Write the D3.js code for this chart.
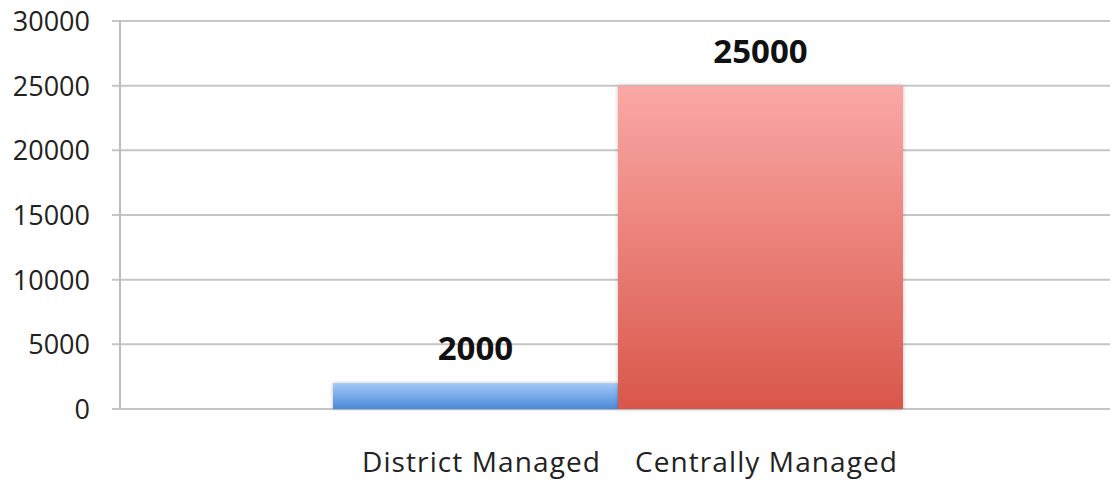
<!DOCTYPE html>
<html><head><meta charset="utf-8">
<script src="https://cdn.jsdelivr.net/npm/d3@7"></script>
<style>body{margin:0;background:#fff}svg{display:block}</style>
</head><body>
<svg id="c" width="1110" height="484"></svg>
<script>
const categories = ["District Managed", "Centrally Managed"];
const values = [2000, 25000];
const yTicks = [0, 5000, 10000, 15000, 20000, 25000, 30000];
const gradStops = [["#a3c9f7", "#4a8ad8"], ["#faa8a6", "#d9574a"]];

const svg = d3.select("#c");
const y = d3.scaleLinear().domain([0, 30000]).range([409, 21]);
const x = d3.scaleBand().domain(categories).range([333, 903]).paddingInner(0).paddingOuter(0);

const defs = svg.append("defs");
categories.forEach((c, i) => {
  const g = defs.append("linearGradient").attr("id", "g" + i)
    .attr("x1", 0).attr("y1", 0).attr("x2", 0).attr("y2", 1);
  g.append("stop").attr("offset", "0%").attr("stop-color", gradStops[i][0]);
  g.append("stop").attr("offset", "100%").attr("stop-color", gradStops[i][1]);
});
const f = defs.append("filter").attr("id", "sh").attr("x", "-5%").attr("y", "-5%").attr("width", "110%").attr("height", "110%");
f.append("feGaussianBlur").attr("in", "SourceAlpha").attr("stdDeviation", 2).attr("result", "b");
f.append("feOffset").attr("in", "b").attr("dx", 0).attr("dy", 0).attr("result", "o");
f.append("feComponentTransfer").attr("in", "o").attr("result", "o2")
  .append("feFuncA").attr("type", "linear").attr("slope", 0.25);
const m = f.append("feMerge");
m.append("feMergeNode").attr("in", "o2");
m.append("feMergeNode").attr("in", "SourceGraphic");

// gridlines
svg.append("g").selectAll("line").data(yTicks).join("line")
  .attr("x1", 112).attr("x2", 1110)
  .attr("y1", d => y(d)).attr("y2", d => y(d))
  .attr("stroke", "#c6c6c6").attr("stroke-width", 2);

// y axis line
svg.append("line").attr("x1", 120).attr("x2", 120).attr("y1", y(30000)).attr("y2", y(0))
  .attr("stroke", "#bdbdbd").attr("stroke-width", 2);

// y tick labels
svg.append("g").selectAll("text").data(yTicks).join("text")
  .attr("x", 90).attr("y", d => y(d) + 10)
  .attr("text-anchor", "end")
  .attr("font-family", "Open Sans, sans-serif").attr("font-size", 27)
  .attr("fill", "#222")
  .text(d => d);

// bars
svg.append("g").selectAll("rect").data(values).join("rect")
  .attr("x", (d, i) => x(categories[i]))
  .attr("width", x.bandwidth())
  .attr("y", d => y(d))
  .attr("height", d => y(0) - y(d))
  .attr("fill", (d, i) => `url(#g${i})`)
  .attr("filter", "url(#sh)");

// value labels
svg.append("g").selectAll("text").data(values).join("text")
  .attr("x", (d, i) => x(categories[i]) + x.bandwidth() / 2)
  .attr("y", d => y(d) - 23)
  .attr("text-anchor", "middle")
  .attr("font-family", "Open Sans, sans-serif").attr("font-weight", "bold").attr("font-size", 33)
  .attr("fill", "#111")
  .text(d => d);

// category labels
svg.append("g").selectAll("text").data(categories).join("text")
  .attr("x", d => x(d) + x.bandwidth() / 2 + 6)
  .attr("y", 472)
  .attr("text-anchor", "middle")
  .attr("font-family", "Open Sans, sans-serif").attr("font-size", 28)
  .attr("letter-spacing", 1.1)
  .attr("fill", "#222")
  .text(d => d);
</script>
</body></html>
